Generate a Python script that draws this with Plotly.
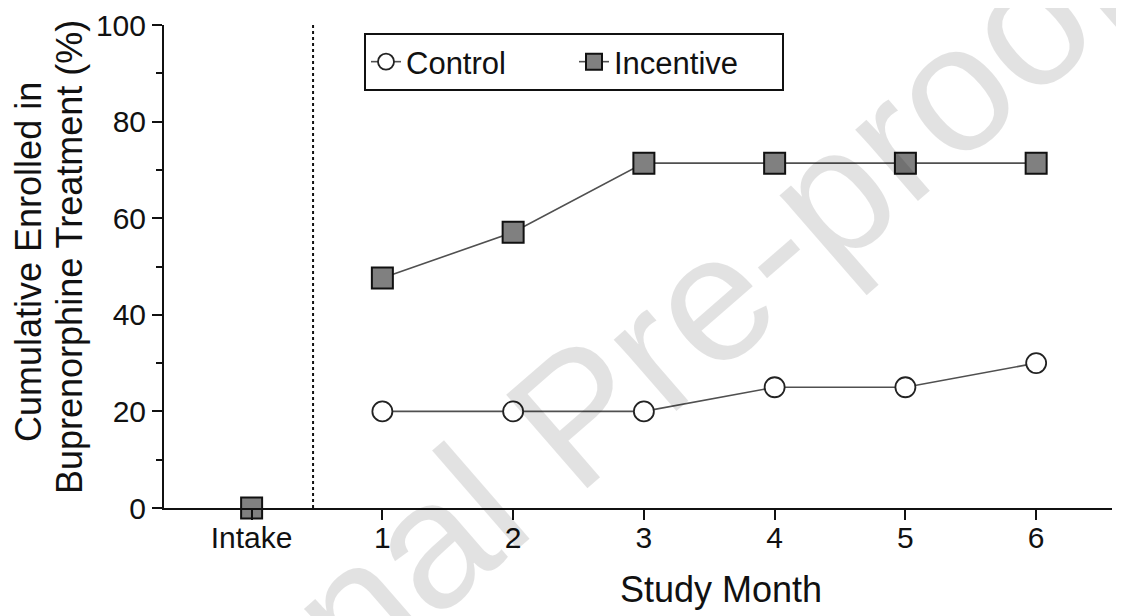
import plotly.graph_objects as go

categories = ["Intake", "1", "2", "3", "4", "5", "6"]
control = [None, 20, 20, 20, 25, 25, 30]
incentive = [0, 47.6, 57.1, 71.4, 71.4, 71.4, 71.4]
y_ticks = [0, 20, 40, 60, 80, 100]

xpos = list(range(len(categories)))
FONT = "Liberation Sans, Arial, sans-serif"

# plot area in screen pixels (page has an 8px body margin)
PX0, PX1, PY0, PY1 = 164, 1112, 25, 508


def px(x):
    return (x - PX0) / (PX1 - PX0)


def py(y):
    return (PY1 - y) / (PY1 - PY0)


fig = go.Figure()

fig.add_trace(go.Scatter(
    x=xpos[1:], y=control[1:], mode="lines+markers", name="Control",
    line=dict(color="#505050", width=1.6),
    marker=dict(symbol="circle", size=20, color="white", line=dict(color="#222", width=1.8)),
    cliponaxis=False,
))
fig.add_trace(go.Scatter(
    x=xpos[1:], y=incentive[1:], mode="lines+markers", name="Incentive",
    line=dict(color="#505050", width=1.6),
    marker=dict(symbol="square", size=21, color="#808080", line=dict(color="#111", width=2)),
    cliponaxis=False,
))
fig.add_trace(go.Scatter(
    x=xpos[:1], y=incentive[:1], mode="markers", name="Incentive", showlegend=False,
    marker=dict(symbol="square", size=21, color="#808080", line=dict(color="#111", width=2)),
    cliponaxis=False,
))

fig.add_shape(type="line", xref="x", yref="y", x0=0.47, x1=0.47, y0=0, y1=100,
              line=dict(color="#111", width=2, dash="dot"))

fig.add_annotation(text="Journal Pre-proof", xref="paper", yref="paper", x=px(577), y=py(414),
                   xanchor="center", yanchor="middle", showarrow=False, textangle=-41,
                   font=dict(family=FONT, size=180, color="rgba(0,0,0,0.115)"))

fig.add_annotation(text="Cumulative Enrolled in",
                   xref="paper", yref="paper", x=px(28), y=py(262),
                   xanchor="center", yanchor="middle", showarrow=False, textangle=-90,
                   font=dict(family=FONT, size=36, color="#111"))
fig.add_annotation(text="Buprenorphine Treatment (%)",
                   xref="paper", yref="paper", x=px(69), y=py(257),
                   xanchor="center", yanchor="middle", showarrow=False, textangle=-90,
                   font=dict(family=FONT, size=36, color="#111"))
fig.add_annotation(text="Study Month", xref="paper", yref="paper", x=px(721), y=py(589),
                   xanchor="center", yanchor="middle", showarrow=False,
                   font=dict(family=FONT, size=36, color="#111"))

fig.update_layout(
    width=1116, height=608,
    margin=dict(l=PX0 - 8, r=1124 - PX1, t=PY0 - 8, b=616 - PY1, autoexpand=False),
    paper_bgcolor="white", plot_bgcolor="white",
    font=dict(family=FONT, size=30, color="#111"),
    showlegend=True,
    legend=dict(orientation="h", x=px(364), y=py(33),
                xanchor="left", yanchor="top",
                bordercolor="#111", borderwidth=2, bgcolor="white",
                font=dict(family=FONT, size=31), itemwidth=30,
                entrywidth=163, entrywidthmode="pixels"),
    xaxis=dict(range=[-0.67, 6.58], tickvals=xpos, ticktext=categories, automargin=False,
               showgrid=False, zeroline=False, showline=True, linecolor="#111", linewidth=2,
               ticks="outside", ticklen=10, tickwidth=2, tickcolor="#111",
               tickfont=dict(size=30), ticklabelstandoff=-8),
    yaxis=dict(range=[0, 100], tickvals=y_ticks, showgrid=False, zeroline=False, automargin=False,
               showline=True, linecolor="#111", linewidth=2,
               ticks="outside", ticklen=10, tickwidth=2, tickcolor="#111",
               tickfont=dict(size=30),
               minor=dict(dtick=10, ticks="outside", ticklen=6, tickwidth=2, tickcolor="#111")),
)

fig.write_html("out.html")
